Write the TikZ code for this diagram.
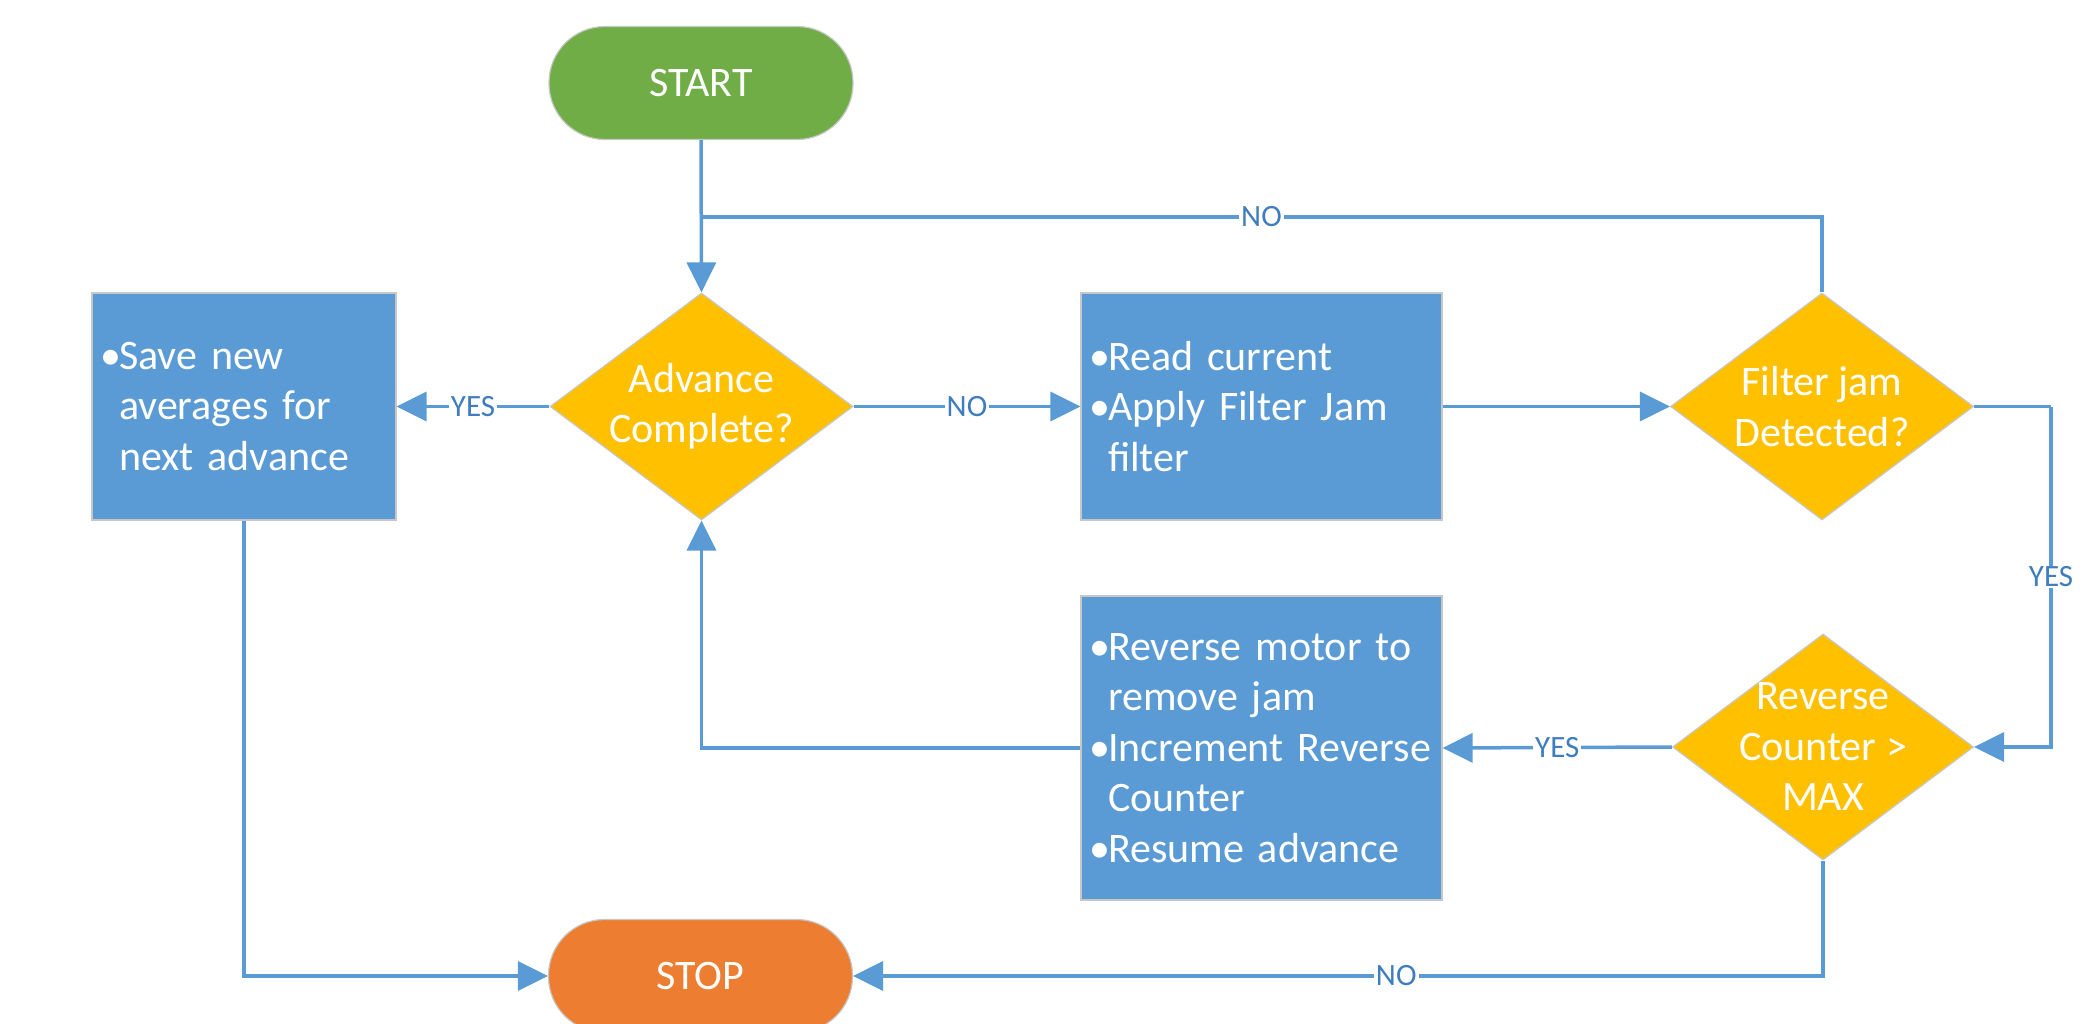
\documentclass[tikz,border=0pt]{standalone}
\usepackage{fontspec}
\setmainfont{Carlito}
\usetikzlibrary{shapes.geometric,arrows.meta}
\definecolor{lineblue}{HTML}{5B9BD5}
\definecolor{boxblue}{HTML}{5B9BD5}
\definecolor{decyellow}{HTML}{FFC000}
\definecolor{startgreen}{HTML}{70AD47}
\definecolor{stoporange}{HTML}{ED7D31}
\definecolor{lblblue}{HTML}{3F7DBE}
\newcommand\mybul{\makebox[19pt][l]{•}}
\newcommand\myind{\hspace*{19pt}}
\tikzset{
 base/.style={draw=black!22, line width=1.2pt, text=white, font=\fontsize{42}{50.5}\selectfont},
 term/.style={base, rectangle, rounded corners=56pt, minimum width=304pt, minimum height=113pt},
 procbox/.style={base, rectangle, fill=boxblue, inner xsep=8pt, inner ysep=0pt, align=left},
 decision/.style={base, diamond, fill=decyellow, inner sep=-40pt, minimum width=303pt, minimum height=227pt, align=center},
 conn/.style={draw=lineblue, line width=3.5pt},
 arr/.style={conn, -{Triangle[length=30pt,width=29pt]}},
 lbl/.style={fill=white, text=lblblue, font=\fontsize{31}{31}\selectfont, inner xsep=2pt, inner ysep=1pt}
}
\begin{document}
\begin{tikzpicture}[x=1pt,y=-1pt]
\useasboundingbox (0,0) rectangle (2089,1024);
\clip (0,0) rectangle (2089,1024);

\node[term, fill=startgreen] (start) at (701,83) {START};
\node[term, fill=stoporange] (stop) at (700.5,976) {STOP};

\node[decision] (adv) at (701.5,406.5) {Advance\\Complete?};
\node[decision] (filt) at (1822,406.5) {Filter jam\\Detected?};
\node[decision, minimum width=301pt, minimum height=226pt] (revd) at (1823,747) {Reverse\\Counter >\\MAX};

\node[procbox, minimum width=304pt, minimum height=227pt, text width=288pt] (save) at (244,406.5)
 {\mybul\mbox{Save new}\\\myind\mbox{averages for}\\\myind\mbox{next advance}};
\node[procbox, minimum width=361pt, minimum height=227pt, text width=345pt] (read) at (1261.5,406.5)
 {\mybul\mbox{Read current}\\\mybul\mbox{Apply Filter Jam}\\\myind filter};
\node[procbox, minimum width=361pt, minimum height=304pt, text width=345pt] (rev) at (1261.5,748)
 {\mybul\mbox{Reverse motor to}\\\myind\mbox{remove jam}\\\mybul\mbox{Increment Reverse}\\\myind Counter\\\mybul\mbox{Resume advance}};

\coordinate (j) at (701,217);
\coordinate (r1) at (2051,406.5);

\draw[arr] (start.south) -- (adv.north);
\draw[conn] (filt.north) |- node[lbl, pos=0.75] {NO} (j);
\draw[arr] (adv.west) -- node[lbl] {YES} (save.east);
\draw[arr] (adv.east) -- node[lbl] {NO} (read.west);
\draw[arr] (read.east) -- (filt.west);
\draw[conn] (filt.east) -- (r1);
\draw[arr] (r1) |- node[lbl, pos=0.25] {YES} (revd.east);
\draw[arr] (revd.west) -- node[lbl] {YES} (rev.east);
\draw[arr] (rev.west) -| (adv.south);
\draw[arr] (save.south) |- (stop.west);
\draw[arr] (revd.south) |- node[lbl, pos=0.72] {NO} (stop.east);
\end{tikzpicture}
\end{document}
